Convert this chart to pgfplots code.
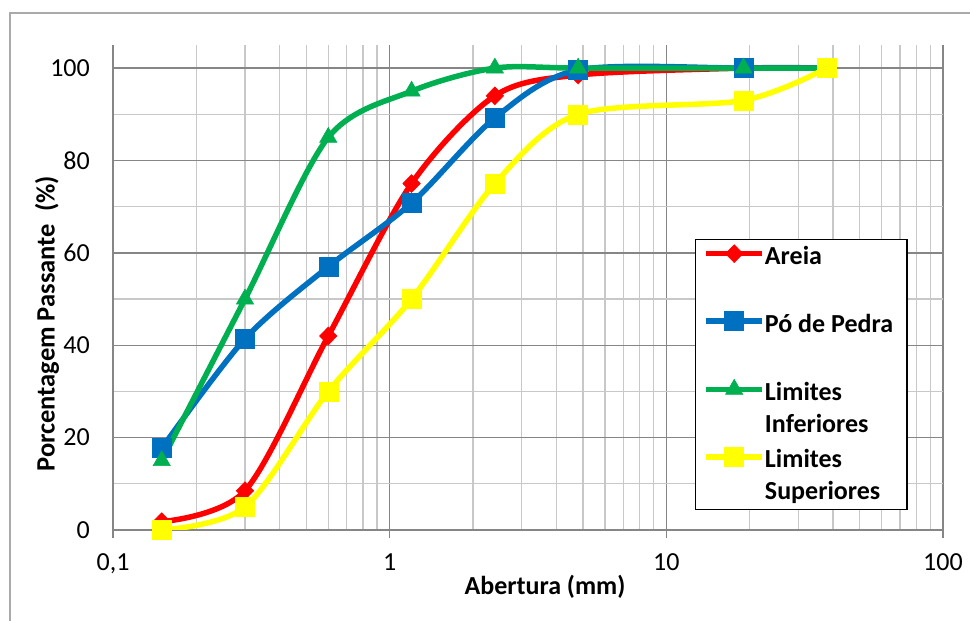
\documentclass[border=0pt]{standalone}
\usepackage{pgfplots}
\pgfplotsset{compat=1.18}
\usepackage{fontspec}
\setmainfont{Carlito}
\definecolor{cred}{RGB}{255,0,0}
\definecolor{cblue}{RGB}{0,112,192}
\definecolor{cgreen}{RGB}{0,176,80}
\definecolor{cyellow}{RGB}{255,255,0}
\definecolor{axgray}{RGB}{134,134,134}
\definecolor{gridgray}{RGB}{200,200,200}
\definecolor{framegray}{RGB}{170,170,170}
\begin{document}
\begin{tikzpicture}
\useasboundingbox (0pt,0pt) rectangle (970pt,621pt);
\draw[draw=framegray, line width=1.5pt] (10pt,-5pt) -- (10pt,608pt) -- (975pt,608pt);
\begin{axis}[
  at={(113pt,91pt)}, anchor=south west,
  scale only axis, width=830pt, height=485pt,
  xmode=log, xmin=0.1, xmax=100, ymin=0, ymax=105,
  axis x line*=bottom, axis y line*=left,
  axis line style={-, draw=axgray, line width=1.5pt},
  xtick={0.1,1,10,100}, xticklabels={{0,1},1,10,100},
  ytick={0,20,40,60,80,100}, minor ytick={10,30,50,70,90},
  grid=both,
  major grid style={draw=axgray, line width=1.3pt},
  minor grid style={draw=gridgray, line width=1.3pt},
  tick align=outside, major tick length=8pt, minor tick length=0pt,
  xtick style={draw=axgray, line width=1.5pt},
  ytick style={draw=none},
  /pgf/number format/assume math mode=true,
  xticklabel style={font=\fontsize{26}{31}\selectfont, anchor=base, inner sep=0pt, yshift=-33pt},
  yticklabel style={font=\fontsize{26}{31}\selectfont, anchor=east, inner sep=0pt, xshift=-15pt},
  xlabel={Abertura (mm)},
  ylabel={Porcentagem Passante\ \ (\%)},
  xlabel style={font=\bfseries\fontsize{26}{31}\selectfont, at={(axis description cs:0.5205,-0.1175)}, anchor=center},
  ylabel style={font=\bfseries\fontsize{26.5}{31}\selectfont, at={(axis description cs:-0.0795,0.425)}, anchor=center},
  legend style={at={(0.701,0.600)}, anchor=north west, draw=black, line width=1.3pt,
    inner xsep=8pt, inner ysep=5pt, row sep=5.3pt,
    cells={anchor=base west},
    nodes={inner sep=0pt, text depth=, font=\bfseries\fontsize{26}{32}\selectfont}},
  legend image code/.code={\draw[mark repeat=2, mark phase=2] plot coordinates {(0pt,11pt) (28pt,11pt) (56pt,11pt)};},
  every axis plot/.append style={smooth, tension=0.5, line width=5.5pt},
]
\addplot[cred, mark=diamond*, mark size=9pt, mark options={solid, fill=cred, draw=cred, line width=0.5pt, xscale=1.3}] coordinates {
 (0.15,1.8) (0.3,8.5) (0.6,42) (1.2,75) (2.4,94) (4.8,98.5) (19,100) (38,100)};
\addlegendentry{\parbox[t][60pt][t]{134pt}{Areia}}
\addplot[cblue, mark=square*, mark size=9.5pt, mark options={solid, fill=cblue, draw=cblue, line width=0.5pt}] coordinates {
 (0.15,17.7) (0.3,41.4) (0.6,57) (1.2,70.8) (2.4,89.2) (4.8,99.6) (19,100) (38,100)};
\addlegendentry{\parbox[t][60pt][t]{134pt}{Pó de Pedra}}
\addplot[cgreen, mark=triangle*, mark size=10pt, mark options={solid, fill=cgreen, draw=cgreen, line width=0.5pt}] coordinates {
 (0.15,15) (0.3,50) (0.6,85) (1.2,95) (2.4,100) (4.8,100) (19,100) (38,100)};
\addlegendentry{\parbox[t][60pt][t]{134pt}{Limites\\Inferiores}}
\addplot[cyellow, mark=square*, mark size=9.5pt, mark options={solid, fill=cyellow, draw=cyellow, line width=0.5pt}] coordinates {
 (0.15,0) (0.3,5) (0.6,30) (1.2,50) (2.4,75) (4.8,90) (19,93) (38,100)};
\addlegendentry{\parbox[t][55pt][t]{134pt}{Limites\\Superiores}}
\end{axis}
\end{tikzpicture}
\end{document}
